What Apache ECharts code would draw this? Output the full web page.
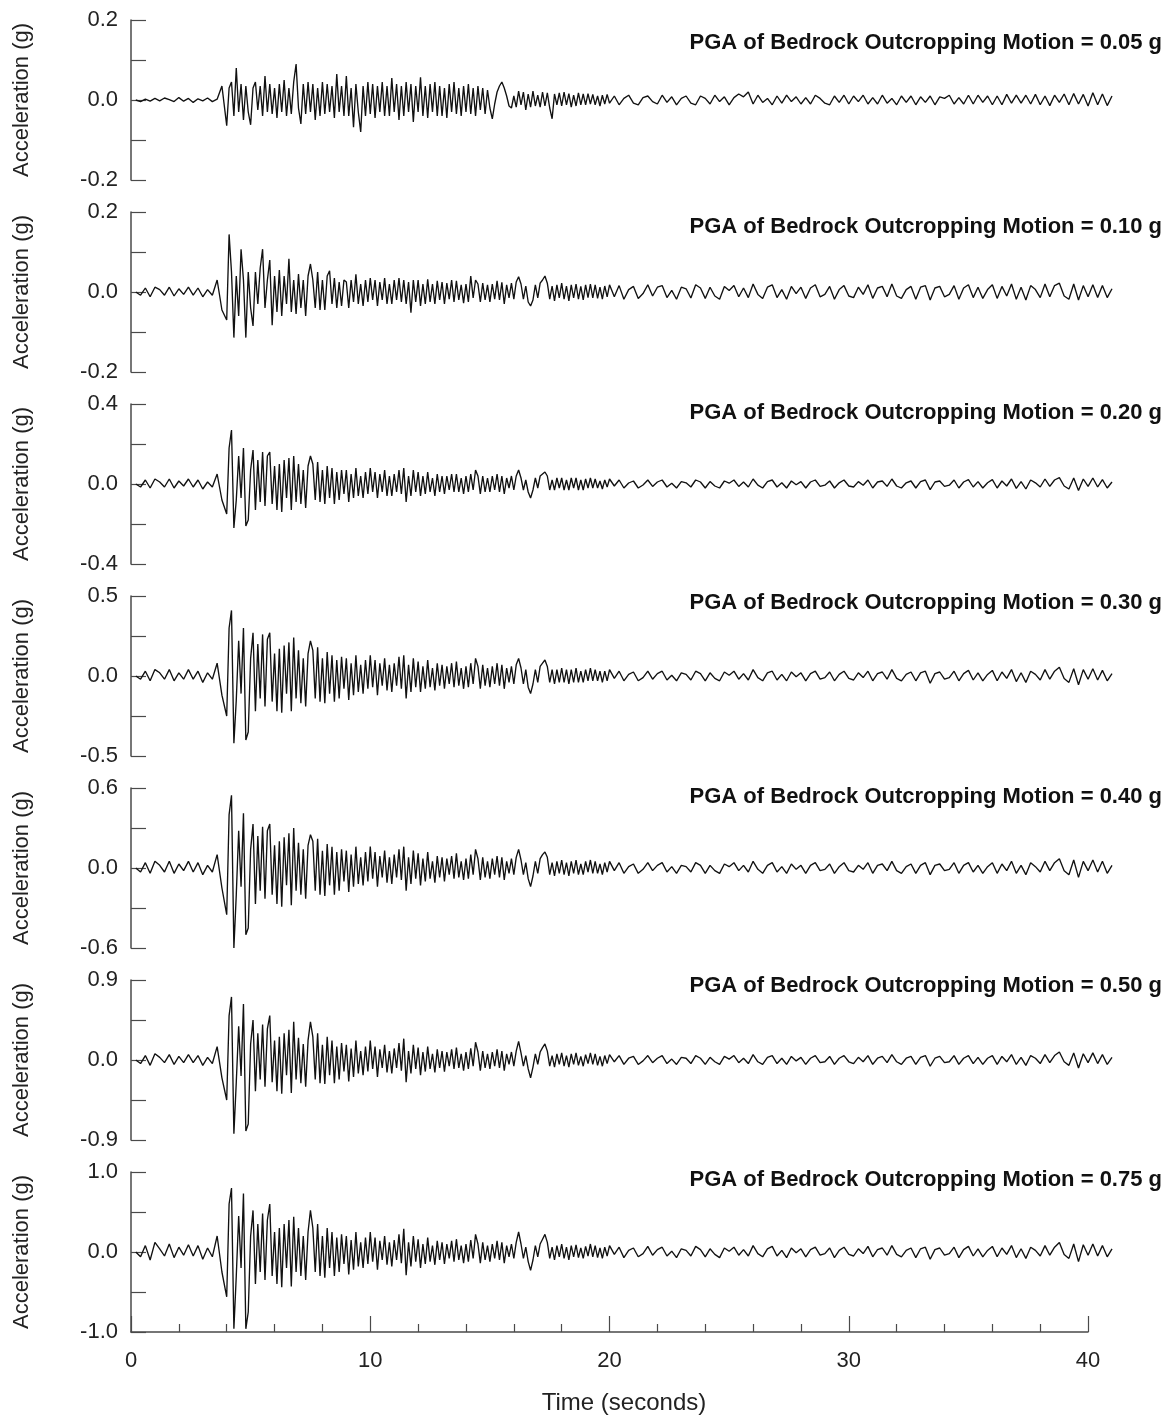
<!DOCTYPE html>
<html><head><meta charset="utf-8">
<script src="https://cdn.jsdelivr.net/npm/echarts/dist/echarts.min.js"></script>
<style>html,body{margin:0;padding:0;background:#fff}#c{width:1171px;height:1422px}</style>
</head><body><div id="c"></div>
<script>
// Sampling of the digitised records: [start (s), step (s), count]
// pre-event 0.2-3.8 s, strong motion 4.0-19.9 s, coda 20.0-41.0 s
const SEGMENTS = [[0.2, 0.2, 19], [4.0, 0.1, 160], [20.0, 0.2, 106]];
const pgaLabels = ['0.05', '0.10', '0.20', '0.30', '0.40', '0.50', '0.75'];
const yRanges = [0.2, 0.2, 0.4, 0.5, 0.6, 0.9, 1.0];
const xTickLabels = [0, 10, 20, 30, 40];

const acc005 = [
 0.000,-0.004,0.002,-0.003,0.004,-0.002,0.005,0.001,-0.004,0.006,-0.003,0.004,-0.006,0.003,-0.002,0.005,-0.004,0.002,0.035,
 -0.064,0.030,0.045,-0.040,0.080,-0.030,0.040,-0.050,0.035,-0.030,
 -0.062,0.030,0.045,-0.025,0.035,-0.040,0.060,-0.030,0.040,-0.035,
 0.030,-0.045,0.040,-0.030,0.050,-0.040,0.030,-0.035,0.045,0.090,
 -0.020,-0.060,0.040,-0.035,0.045,-0.030,0.040,-0.050,0.030,-0.040,
 0.045,-0.035,0.040,-0.030,0.035,-0.045,0.065,-0.030,0.035,-0.040,
 0.060,-0.040,0.030,-0.068,0.040,-0.030,-0.080,0.035,-0.040,0.045,
 -0.035,0.040,-0.045,0.035,-0.030,0.045,-0.040,0.035,-0.040,0.055,
 -0.030,0.040,-0.050,0.035,-0.040,0.045,-0.030,0.040,-0.055,0.035,
 -0.030,0.057,-0.040,0.035,-0.045,0.040,-0.030,0.045,-0.040,0.035,
 -0.040,0.030,-0.045,0.040,-0.030,0.045,-0.035,0.030,-0.040,0.035,
 -0.030,0.040,-0.035,0.030,-0.040,0.035,-0.025,0.030,-0.035,0.025,
 -0.020,-0.047,-0.010,0.020,0.035,0.045,0.030,0.010,-0.015,-0.020,
 0.010,-0.018,0.022,-0.012,0.020,-0.025,0.015,-0.018,0.022,-0.015,
 0.012,-0.018,0.020,-0.015,0.018,-0.020,-0.047,0.015,-0.012,0.018,
 -0.015,0.020,-0.012,0.016,-0.018,0.012,-0.015,0.018,-0.012,0.015,
 -0.012,0.016,-0.010,0.014,-0.012,0.010,-0.015,0.012,-0.010,0.014,
 -0.008,
 0.010,-0.012,0.004,0.012,-0.008, -0.012,0.006,0.010,-0.004,-0.010, 0.012,-0.006,0.008,-0.012,0.004,
 0.010,-0.008,-0.012,0.010,0.004, -0.010,0.012,-0.004,0.008,-0.012, 0.006,0.015,0.008,0.020,-0.010,
 0.012,-0.006,0.004,-0.012,0.010, -0.008,0.012,-0.004,0.008,-0.010, 0.006,-0.010,0.012,0.004,-0.008,
 -0.012,0.010,-0.006,0.012,-0.010, 0.010,-0.004,0.012,-0.010,0.006, -0.010,0.012,-0.008,0.004,-0.012,
 0.010,-0.006,0.010,-0.012,0.008, -0.006,0.010,-0.012,0.008,0.004, 0.012,-0.010,0.006,-0.010,0.012,
 -0.010,0.012,-0.006,0.010,-0.012, 0.010,-0.012,0.014,-0.008,0.012, -0.008,0.012,-0.010,0.014,-0.012,
 0.010,-0.014,0.012,-0.006,0.015, -0.012,0.016,-0.010,0.014,-0.015, 0.018,-0.012,0.015,-0.014,0.010
];

const acc010 = [
 0.000,-0.008,0.010,-0.012,0.012,0.006,-0.008,0.012,-0.010,0.008,-0.006,0.012,-0.008,0.010,-0.012,0.006,-0.008,0.030,-0.045,
 -0.070,0.144,0.050,-0.114,0.040,-0.060,0.107,0.030,-0.114,0.050,
 -0.040,-0.085,0.050,-0.030,0.060,0.107,-0.040,0.030,0.080,-0.083,
 0.040,-0.050,0.055,-0.060,0.040,-0.030,0.083,-0.050,0.030,-0.055,
 0.045,-0.040,0.030,-0.060,0.040,0.070,0.030,-0.040,0.050,-0.045,
 0.030,-0.045,0.040,0.053,-0.030,0.035,-0.040,0.025,-0.035,0.030,
 0.025,-0.040,0.030,-0.025,0.044,-0.030,0.020,-0.035,0.030,-0.025,
 0.035,-0.020,0.030,-0.035,0.025,-0.020,0.035,-0.030,0.020,-0.030,
 0.030,-0.020,0.035,-0.025,0.030,-0.030,0.025,-0.052,0.030,-0.025,
 0.030,-0.035,0.020,-0.030,0.032,-0.025,0.020,-0.030,0.028,-0.020,
 0.025,-0.030,0.022,-0.018,0.030,-0.025,0.028,-0.020,0.018,-0.028,
 0.020,-0.025,0.040,-0.015,0.030,0.020,-0.025,0.022,-0.020,0.018,
 -0.025,0.020,-0.018,0.028,-0.020,0.024,-0.030,0.018,-0.015,0.022,
 -0.018,0.025,0.038,0.020,-0.018,0.015,-0.025,-0.035,-0.020,0.018,
 -0.015,0.022,0.030,0.040,0.022,-0.018,0.015,-0.022,0.018,-0.015,
 0.022,-0.018,0.015,-0.022,0.018,-0.015,0.020,-0.018,0.014,-0.020,
 0.018,-0.014,0.020,-0.015,0.018,-0.016,0.012,-0.018,0.015,-0.012,
 0.018,
 -0.012,0.016,-0.018,0.006,0.014, -0.016,-0.004,0.018,-0.010,0.012, 0.016,-0.014,0.004,-0.018,0.012,
 0.008,-0.015,0.018,0.010,-0.016, 0.012,-0.010,-0.018,0.014,0.004, 0.016,-0.012,0.010,-0.014,0.020,
 -0.006,-0.016,0.012,0.018,-0.014, 0.006,-0.018,0.014,-0.004,0.012, -0.016,0.010,0.018,-0.012,-0.006,
 0.014,-0.018,0.006,0.016,-0.010, -0.014,0.012,-0.006,0.018,-0.016, 0.010,0.014,-0.012,0.020,-0.010,
 -0.016,0.006,0.014,-0.018,0.012, 0.016,-0.020,0.010,0.014,-0.012, -0.006,0.016,-0.018,0.010,0.018,
 -0.014,0.012,-0.016,0.006,0.018, -0.016,0.014,-0.010,0.020,-0.018, 0.012,-0.020,0.016,0.006,-0.014,
 0.020,-0.012,0.016,0.022,-0.010, -0.018,0.020,-0.020,0.016,-0.012, 0.018,-0.014,0.016,-0.014,0.008
];

const acc020 = [
 0.000,-0.015,0.020,-0.020,0.025,0.010,-0.015,0.025,-0.020,0.015,-0.010,0.025,-0.015,0.020,-0.025,0.010,-0.015,0.050,-0.080,
 -0.15,0.18,0.27,-0.22,-0.08,0.14,-0.07,0.18,-0.21,-0.18,
 0.07,0.17,-0.13,0.12,-0.09,0.16,-0.11,0.14,0.16,-0.10,
 0.09,-0.13,0.10,-0.14,0.12,-0.07,0.13,-0.13,0.14,-0.09,
 0.10,-0.10,0.07,-0.12,0.09,0.14,0.10,-0.08,0.11,-0.09,
 0.07,-0.10,0.09,-0.07,0.08,-0.10,0.06,-0.08,0.07,-0.05,
 0.07,-0.09,0.05,-0.07,0.08,-0.06,0.04,-0.07,0.06,-0.05,
 0.08,-0.04,0.06,-0.07,0.05,-0.04,0.07,-0.06,0.04,-0.06,
 0.05,-0.04,0.07,-0.05,0.08,-0.09,0.04,-0.06,0.07,-0.04,
 0.06,-0.06,0.04,-0.05,0.06,-0.04,0.03,-0.06,0.05,-0.04,
 0.04,-0.05,0.04,-0.03,0.05,-0.04,0.05,-0.04,0.03,-0.05,
 0.04,-0.04,0.05,-0.03,0.07,0.04,-0.05,0.04,-0.04,0.03,
 -0.04,0.04,-0.03,0.05,-0.04,0.04,-0.05,0.03,-0.02,0.04,
 -0.03,0.04,0.07,0.03,-0.03,0.02,-0.04,-0.07,-0.03,0.03,
 -0.02,0.04,0.05,0.06,0.04,-0.03,0.02,-0.03,0.03,-0.02,
 0.03,-0.03,0.02,-0.03,0.03,-0.02,0.03,-0.03,0.02,-0.03,
 0.025,-0.02,0.03,-0.02,0.025,-0.02,0.015,-0.025,0.02,-0.015,
 0.025,
 -0.010,0.020,-0.020,0.005,0.015, -0.020,-0.005,0.020,-0.012,0.010, 0.020,-0.015,0.004,-0.020,0.012,
 0.006,-0.015,0.020,0.010,-0.020, 0.012,-0.010,-0.020,0.015,0.004, 0.020,-0.012,0.010,-0.015,0.025,
 -0.006,-0.020,0.012,0.020,-0.015, 0.006,-0.020,0.015,-0.004,0.012, -0.020,0.010,0.020,-0.012,-0.006,
 0.015,-0.020,0.006,0.020,-0.010, -0.015,0.012,-0.006,0.020,-0.020, 0.010,0.015,-0.012,0.025,-0.010,
 -0.020,0.006,0.015,-0.020,0.012, 0.020,-0.028,0.010,0.015,-0.012, -0.006,0.020,-0.020,0.010,0.022,
 -0.015,0.012,-0.020,0.006,0.022, -0.020,0.015,-0.010,0.025,-0.022, 0.012,-0.025,0.020,0.006,-0.015,
 0.025,-0.012,0.020,0.032,-0.010, -0.025,0.030,-0.032,0.025,-0.012, 0.030,-0.015,0.022,-0.020,0.010
];

const acc030 = [
 0.00,-0.02,0.03,-0.03,0.04,0.02,-0.02,0.04,-0.03,0.02,-0.02,0.04,-0.02,0.03,-0.04,0.02,-0.02,0.08,-0.12,
 -0.25,0.30,0.41,-0.42,-0.15,0.22,-0.11,0.30,-0.40,-0.35,
 0.11,0.27,-0.22,0.20,-0.14,0.26,-0.19,0.23,0.27,-0.16,
 0.14,-0.22,0.17,-0.23,0.19,-0.11,0.21,-0.22,0.24,-0.14,
 0.16,-0.17,0.11,-0.19,0.14,0.22,0.16,-0.14,0.18,-0.16,
 0.11,-0.17,0.15,-0.11,0.13,-0.16,0.10,-0.14,0.12,-0.08,
 0.11,-0.15,0.08,-0.12,0.13,-0.10,0.07,-0.11,0.10,-0.08,
 0.13,-0.07,0.10,-0.12,0.08,-0.06,0.11,-0.09,0.07,-0.10,
 0.08,-0.06,0.12,-0.08,0.13,-0.14,0.07,-0.10,0.11,-0.07,
 0.09,-0.10,0.06,-0.08,0.10,-0.07,0.05,-0.09,0.08,-0.06,
 0.07,-0.08,0.06,-0.05,0.08,-0.07,0.09,-0.06,0.05,-0.08,
 0.06,-0.07,0.08,-0.05,0.11,0.06,-0.08,0.07,-0.06,0.05,
 -0.07,0.06,-0.05,0.08,-0.06,0.07,-0.08,0.05,-0.04,0.06,
 -0.05,0.07,0.11,0.05,-0.05,0.04,-0.07,-0.11,-0.05,0.04,
 -0.04,0.06,0.08,0.10,0.06,-0.04,0.04,-0.05,0.04,-0.04,
 0.05,-0.04,0.04,-0.05,0.04,-0.04,0.05,-0.04,0.03,-0.04,
 0.04,-0.03,0.05,-0.03,0.04,-0.03,0.03,-0.04,0.03,-0.03,
 0.04,
 -0.015,0.030,-0.030,0.010,0.025, -0.030,-0.010,0.030,-0.020,0.015, 0.030,-0.025,0.005,-0.030,0.020,
 0.010,-0.025,0.030,0.015,-0.030, 0.020,-0.015,-0.030,0.025,0.005, 0.030,-0.020,0.015,-0.025,0.040,
 -0.010,-0.030,0.020,0.030,-0.025, 0.010,-0.030,0.025,-0.005,0.020, -0.030,0.015,0.030,-0.020,-0.010,
 0.025,-0.030,0.010,0.030,-0.015, -0.025,0.020,-0.010,0.030,-0.030, 0.015,0.025,-0.020,0.040,-0.015,
 -0.030,0.010,0.025,-0.030,0.020, 0.030,-0.045,0.015,0.025,-0.020, -0.010,0.030,-0.030,0.015,0.035,
 -0.025,0.020,-0.030,0.010,0.035, -0.030,0.025,-0.015,0.040,-0.035, 0.020,-0.040,0.030,0.010,-0.025,
 0.040,-0.020,0.030,0.055,-0.015, -0.040,0.045,-0.055,0.040,-0.020, 0.045,-0.025,0.035,-0.030,0.015
];

const acc040 = [
 0.00,-0.03,0.04,-0.04,0.05,0.02,-0.03,0.05,-0.04,0.03,-0.02,0.05,-0.03,0.04,-0.05,0.02,-0.03,0.10,-0.15,
 -0.35,0.40,0.545,-0.60,-0.20,0.28,-0.14,0.41,-0.50,-0.45,
 0.14,0.33,-0.27,0.24,-0.17,0.31,-0.23,0.28,0.33,-0.20,
 0.17,-0.27,0.20,-0.29,0.23,-0.13,0.26,-0.28,0.30,-0.17,
 0.19,-0.20,0.14,-0.23,0.17,0.25,0.20,-0.17,0.22,-0.20,
 0.13,-0.21,0.18,-0.13,0.16,-0.20,0.12,-0.17,0.14,-0.10,
 0.13,-0.18,0.10,-0.14,0.16,-0.12,0.08,-0.13,0.12,-0.10,
 0.16,-0.08,0.12,-0.14,0.09,-0.07,0.13,-0.11,0.08,-0.12,
 0.10,-0.07,0.14,-0.09,0.16,-0.17,0.08,-0.12,0.13,-0.08,
 0.11,-0.13,0.07,-0.10,0.12,-0.08,0.05,-0.11,0.09,-0.07,
 0.08,-0.10,0.07,-0.05,0.09,-0.08,0.11,-0.07,0.05,-0.09,
 0.07,-0.08,0.10,-0.05,0.14,0.07,-0.09,0.08,-0.07,0.05,
 -0.08,0.07,-0.05,0.09,-0.07,0.08,-0.09,0.05,-0.04,0.07,
 -0.05,0.08,0.14,0.06,-0.05,0.04,-0.08,-0.14,-0.06,0.05,
 -0.04,0.07,0.10,0.12,0.08,-0.05,0.04,-0.06,0.05,-0.04,
 0.06,-0.05,0.04,-0.06,0.05,-0.04,0.06,-0.05,0.03,-0.05,
 0.05,-0.03,0.06,-0.04,0.05,-0.04,0.03,-0.05,0.04,-0.03,
 0.05,
 -0.02,0.04,-0.04,0.01,0.03, -0.04,-0.01,0.04,-0.02,0.02, 0.04,-0.03,0.01,-0.04,0.02,
 0.01,-0.03,0.04,0.02,-0.04, 0.02,-0.02,-0.04,0.03,0.01, 0.04,-0.02,0.02,-0.03,0.05,
 -0.01,-0.04,0.02,0.04,-0.03, 0.01,-0.04,0.03,-0.01,0.02, -0.04,0.02,0.04,-0.02,-0.01,
 0.03,-0.04,0.01,0.04,-0.02, -0.03,0.02,-0.01,0.04,-0.04, 0.02,0.03,-0.02,0.05,-0.02,
 -0.04,0.01,0.03,-0.04,0.02, 0.04,-0.05,0.02,0.03,-0.02, -0.01,0.04,-0.04,0.02,0.04,
 -0.03,0.02,-0.04,0.01,0.04, -0.04,0.03,-0.02,0.05,-0.04, 0.02,-0.05,0.04,0.01,-0.03,
 0.05,-0.02,0.04,0.07,-0.02, -0.05,0.06,-0.07,0.05,-0.02, 0.06,-0.03,0.05,-0.04,0.02
];

const acc050 = [
 0.00,-0.04,0.05,-0.06,0.07,0.03,-0.03,0.06,-0.05,0.04,-0.03,0.06,-0.03,0.05,-0.06,0.03,-0.04,0.15,-0.20,
 -0.45,0.50,0.71,-0.83,-0.25,0.38,-0.18,0.63,-0.80,-0.72,
 0.18,0.45,-0.35,0.30,-0.22,0.40,-0.30,0.35,0.50,-0.25,
 0.22,-0.35,0.26,-0.38,0.30,-0.17,0.34,-0.37,0.43,-0.22,
 0.25,-0.26,0.18,-0.30,0.22,0.43,0.26,-0.22,0.30,-0.26,
 0.17,-0.27,0.26,-0.17,0.22,-0.26,0.15,-0.22,0.19,-0.13,
 0.17,-0.24,0.13,-0.19,0.22,-0.15,0.10,-0.17,0.15,-0.13,
 0.22,-0.10,0.15,-0.19,0.12,-0.09,0.17,-0.14,0.10,-0.15,
 0.13,-0.09,0.19,-0.12,0.24,-0.25,0.10,-0.15,0.17,-0.10,
 0.14,-0.17,0.09,-0.13,0.15,-0.10,0.07,-0.14,0.12,-0.09,
 0.10,-0.13,0.09,-0.07,0.12,-0.10,0.14,-0.09,0.07,-0.12,
 0.09,-0.10,0.13,-0.07,0.20,0.09,-0.12,0.10,-0.09,0.07,
 -0.10,0.09,-0.07,0.12,-0.09,0.10,-0.12,0.07,-0.05,0.09,
 -0.07,0.10,0.21,0.08,-0.07,0.05,-0.10,-0.20,-0.08,0.07,
 -0.05,0.09,0.14,0.18,0.10,-0.07,0.05,-0.08,0.07,-0.05,
 0.08,-0.07,0.05,-0.08,0.07,-0.05,0.08,-0.06,0.04,-0.07,
 0.06,-0.04,0.08,-0.05,0.07,-0.06,0.04,-0.07,0.05,-0.04,
 0.06,
 -0.02,0.05,-0.05,0.02,0.04, -0.05,-0.01,0.05,-0.03,0.02, 0.05,-0.04,0.01,-0.05,0.03,
 0.02,-0.04,0.05,0.02,-0.05, 0.03,-0.02,-0.05,0.04,0.01, 0.05,-0.03,0.02,-0.04,0.06,
 -0.02,-0.05,0.03,0.05,-0.04, 0.02,-0.05,0.04,-0.01,0.03, -0.05,0.02,0.05,-0.03,-0.02,
 0.04,-0.05,0.02,0.05,-0.02, -0.04,0.03,-0.02,0.05,-0.05, 0.02,0.04,-0.03,0.06,-0.02,
 -0.05,0.02,0.04,-0.05,0.03, 0.05,-0.07,0.02,0.04,-0.03, -0.02,0.05,-0.05,0.02,0.05,
 -0.04,0.03,-0.05,0.02,0.05, -0.05,0.04,-0.02,0.06,-0.05, 0.03,-0.06,0.05,0.02,-0.04,
 0.06,-0.03,0.05,0.09,-0.02, -0.06,0.08,-0.09,0.07,-0.03, 0.08,-0.04,0.06,-0.05,0.03
];

const acc075 = [
 0.00,-0.06,0.08,-0.10,0.12,0.04,-0.05,0.10,-0.07,0.06,-0.04,0.09,-0.05,0.08,-0.09,0.05,-0.06,0.20,-0.25,
 -0.56,0.60,0.80,-0.96,-0.30,0.45,-0.20,0.73,-0.96,-0.75,
 0.20,0.52,-0.40,0.35,-0.25,0.48,-0.35,0.40,0.60,-0.30,
 0.25,-0.40,0.30,-0.44,0.35,-0.20,0.40,-0.43,0.44,-0.25,
 0.30,-0.30,0.20,-0.35,0.25,0.52,0.30,-0.25,0.35,-0.30,
 0.20,-0.32,0.30,-0.20,0.25,-0.30,0.18,-0.25,0.22,-0.15,
 0.20,-0.28,0.15,-0.22,0.25,-0.18,0.12,-0.20,0.18,-0.15,
 0.25,-0.12,0.18,-0.22,0.14,-0.10,0.20,-0.16,0.12,-0.18,
 0.15,-0.10,0.22,-0.14,0.29,-0.29,0.12,-0.18,0.20,-0.12,
 0.16,-0.20,0.10,-0.15,0.18,-0.12,0.08,-0.16,0.14,-0.10,
 0.12,-0.15,0.10,-0.08,0.14,-0.12,0.16,-0.10,0.08,-0.14,
 0.10,-0.12,0.15,-0.08,0.22,0.10,-0.14,0.12,-0.10,0.08,
 -0.12,0.10,-0.08,0.14,-0.10,0.12,-0.14,0.08,-0.06,0.10,
 -0.08,0.12,0.25,0.10,-0.08,0.06,-0.12,-0.23,-0.10,0.08,
 -0.06,0.10,0.16,0.22,0.12,-0.08,0.06,-0.10,0.08,-0.06,
 0.10,-0.08,0.06,-0.10,0.08,-0.06,0.09,-0.07,0.05,-0.08,
 0.07,-0.05,0.10,-0.06,0.08,-0.07,0.05,-0.08,0.06,-0.05,
 0.08,
 -0.03,0.06,-0.07,0.02,0.05, -0.06,-0.02,0.07,-0.04,0.03, 0.06,-0.05,0.01,-0.07,0.04,
 0.02,-0.05,0.07,0.03,-0.06, 0.04,-0.03,-0.07,0.05,0.01, 0.06,-0.04,0.03,-0.05,0.08,
 -0.02,-0.06,0.04,0.07,-0.05, 0.02,-0.07,0.05,-0.01,0.04, -0.06,0.03,0.06,-0.04,-0.02,
 0.05,-0.07,0.02,0.06,-0.03, -0.05,0.04,-0.02,0.07,-0.06, 0.03,0.05,-0.04,0.08,-0.03,
 -0.06,0.02,0.05,-0.07,0.04, 0.06,-0.09,0.03,0.05,-0.04, -0.02,0.06,-0.07,0.03,0.07,
 -0.05,0.04,-0.06,0.02,0.07, -0.06,0.05,-0.03,0.08,-0.07, 0.04,-0.08,0.06,0.02,-0.05,
 0.08,-0.04,0.06,0.12,-0.03, -0.08,0.10,-0.12,0.09,-0.04, 0.10,-0.05,0.08,-0.06,0.04
];

const records = [acc005, acc010, acc020, acc030, acc040, acc050, acc075];
const titleCenters = [43, 227, 413, 603, 797, 986, 1180];

const times = [];
SEGMENTS.forEach(([t0, dt, n]) => { for (let k = 0; k < n; k++) times.push(+(t0 + k * dt).toFixed(2)); });

const FONT = '"Liberation Sans", Arial, Helvetica, sans-serif';
const AXC = '#4a4a4a';
const chart = echarts.init(document.getElementById('c'), null, {renderer: 'canvas'});

const grids = [], xAxes = [], yAxes = [], series = [], titles = [];
records.forEach((rec, i) => {
  const R = yRanges[i];
  grids.push({left: 131, width: 981, top: 20 + 192 * i, height: 160});
  xAxes.push({gridIndex: i, type: 'value', min: 0, max: 41, show: false});
  yAxes.push({
    gridIndex: i, type: 'value', min: -R, max: R, interval: R / 2,
    axisLine: {show: true, lineStyle: {color: AXC, width: 1.5}},
    axisTick: {show: true, inside: true, length: 15, lineStyle: {color: AXC, width: 1.2}},
    splitLine: {show: false},
    axisLabel: {fontSize: 22, color: '#222', fontFamily: FONT, margin: 13,
      formatter: v => (Math.round(v / (R / 2)) % 2 === 0) ? v.toFixed(1) : ''},
    name: 'Acceleration (g)', nameLocation: 'middle', nameGap: 98, nameRotate: 90,
    nameTextStyle: {fontSize: 22, color: '#222', fontFamily: FONT}
  });
  series.push({
    type: 'line', xAxisIndex: i, yAxisIndex: i, symbol: 'none', showSymbol: false,
    clip: false, animation: false,
    lineStyle: {color: '#111', width: 1.35},
    data: rec.map((v, k) => [times[k], v])
  });
  titles.push({
    text: 'PGA of Bedrock Outcropping Motion = ' + pgaLabels[i] + ' g',
    right: 9, top: titleCenters[i] - 11, padding: 0,
    textStyle: {fontSize: 22, fontWeight: 'bold', color: '#111', fontFamily: FONT, lineHeight: 22}
  });
});

// time axis (0-40 s) drawn under the bottom panel
grids.push({left: 131, width: 957, top: 20 + 192 * 6, height: 160});
xAxes.push({
  gridIndex: 7, type: 'value', min: 0, max: 40, interval: 10,
  axisLine: {show: true, onZero: false, lineStyle: {color: AXC, width: 1.5}},
  axisTick: {show: true, inside: true, length: 16, lineStyle: {color: AXC, width: 1.2}},
  minorTick: {show: true, splitNumber: 5, length: 8, lineStyle: {color: AXC, width: 1.2}},
  splitLine: {show: false},
  axisLabel: {show: true, fontSize: 22, color: '#222', fontFamily: FONT, margin: 18,
    formatter: v => xTickLabels.includes(v) ? String(v) : ''}
});
yAxes.push({gridIndex: 7, type: 'value', min: -1, max: 1, show: false});

chart.setOption({
  animation: false,
  backgroundColor: '#fff',
  title: titles,
  grid: grids,
  xAxis: xAxes,
  yAxis: yAxes,
  series: series,
  graphic: [{
    type: 'text', x: 624, y: 1403,
    style: {text: 'Time (seconds)', align: 'center', verticalAlign: 'middle',
      font: '24px ' + FONT, fill: '#222'}
  }]
});
</script></body></html>
